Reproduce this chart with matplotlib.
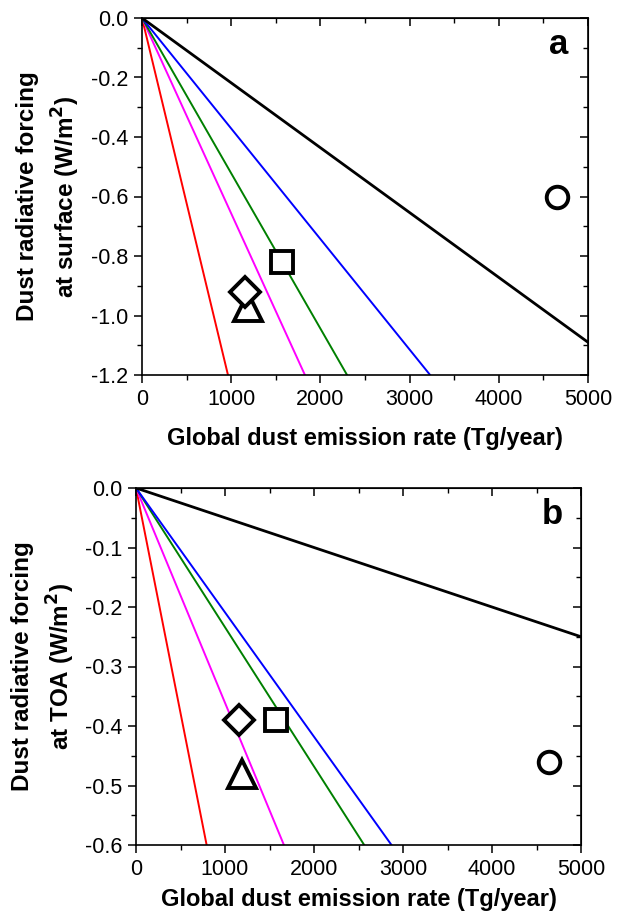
import matplotlib
matplotlib.use("Agg")
import matplotlib.pyplot as plt
from matplotlib.ticker import MultipleLocator

plt.rcParams['font.family'] = ['Liberation Sans', 'DejaVu Sans']

# ---- data ----
line_colors = ['#FF0000', '#FF00FF', '#008000', '#0000FF', '#000000']
x_line = [0, 5000]
# forcing (W/m2) per 1000 Tg/year for each line
slope_sfc = [-1.245, -0.657, -0.522, -0.3715, -0.218]
slope_toa = [-0.756, -0.361, -0.234, -0.209, -0.050]

marker_kinds = ['o', 's', '^', 'D']
emis_sfc = [4650, 1575, 1190, 1160]
forc_sfc = [-0.60, -0.82, -0.97, -0.92]
emis_toa = [4645, 1570, 1195, 1157]
forc_toa = [-0.46, -0.39, -0.48, -0.39]

xticks = [0, 1000, 2000, 3000, 4000, 5000]

fig = plt.figure(figsize=(6.34, 9.16), dpi=100)

def panel(rect, slopes, ex, fy, ylim, ymaj, ymin, letter, ylab, labx, xpad):
    ax = fig.add_axes(rect)
    for c, s in zip(line_colors, slopes):
        yv = [x * s / 1000.0 for x in x_line]
        lw = 2.0 if c == '#000000' else 1.4
        ax.plot(x_line, yv, color=c, lw=lw, zorder=2)
    msize = {'o': 15.5, 's': 15.5, '^': 20, 'D': 15.5}
    for m, x, y in zip(marker_kinds, ex, fy):
        ax.plot([x], [y], marker=m, ms=msize[m], mfc='white', mec='black',
                mew=2.8, ls='none', zorder=3, clip_on=False)
    ax.set_xlim(0, 5000)
    ax.set_ylim(*ylim)
    ax.set_xticks(xticks)
    ax.xaxis.set_minor_locator(MultipleLocator(500))
    ax.yaxis.set_major_locator(MultipleLocator(ymaj))
    ax.yaxis.set_minor_locator(MultipleLocator(ymin))
    ax.yaxis.set_major_formatter(plt.FuncFormatter(lambda v, p: f"{v:.1f}" if abs(v) > 1e-9 else "0.0"))
    ax.tick_params(which='major', direction='out', length=6, width=1.1, labelsize=15.5, pad=4)
    ax.tick_params(which='minor', direction='out', length=3.5, width=1.0)
    for sp in ax.spines.values():
        sp.set_linewidth(1.2)
    secx = ax.secondary_xaxis('top')
    secx.set_xticks(xticks)
    secx.xaxis.set_minor_locator(MultipleLocator(500))
    secx.tick_params(which='major', direction='in', length=6, width=1.1, labeltop=False)
    secx.tick_params(which='minor', direction='in', length=3.5, width=1.0)
    secy = ax.secondary_yaxis('right')
    secy.yaxis.set_major_locator(MultipleLocator(ymaj))
    secy.yaxis.set_minor_locator(MultipleLocator(ymin))
    secy.tick_params(which='major', direction='in', length=6, width=1.1, labelright=False)
    secy.tick_params(which='minor', direction='in', length=3.5, width=1.0)
    ax.set_xlabel('Global dust emission rate (Tg/year)', fontsize=17, fontweight='bold', labelpad=xpad)
    ax.text(0.935, 0.925, letter, transform=ax.transAxes, fontsize=25, fontweight='bold',
            ha='center', va='center')
    fig.text(labx, rect[1] + rect[3] / 2, ylab, rotation=90, ha='center', va='center',
             fontsize=17.5, fontweight='bold', multialignment='center', linespacing=1.45)
    return ax

panel([142/634, 1 - 375/916, 446/634, 357/916], slope_sfc, emis_sfc, forc_sfc,
      (-1.2, 0.0), 0.2, 0.1, 'a', 'Dust radiative forcing\nat surface (W/m$\\mathbf{^2}$)', 49/634, 12)
panel([136/634, 1 - 845/916, 445/634, 357/916], slope_toa, emis_toa, forc_toa,
      (-0.6, 0.0), 0.1, 0.05, 'b', 'Dust radiative forcing\nat TOA (W/m$\\mathbf{^2}$)', 44/634, 6)

fig.savefig('out.png', dpi=100)
